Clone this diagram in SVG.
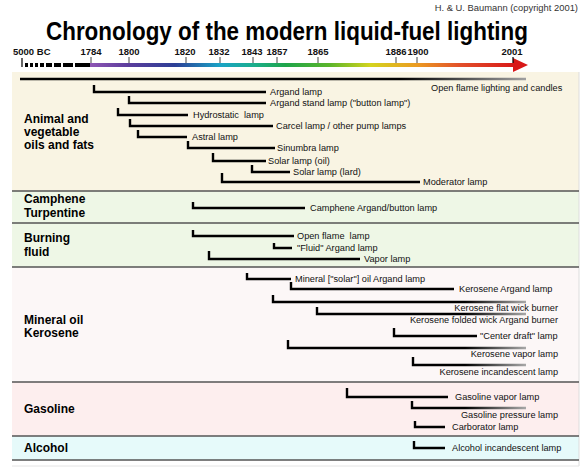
<svg xmlns="http://www.w3.org/2000/svg" width="583" height="471" viewBox="0 0 583 471">
<defs>
<linearGradient id="spec" gradientUnits="userSpaceOnUse" x1="90" y1="0" x2="515" y2="0">
<stop offset="0" stop-color="#8e55b4"/>
<stop offset="0.09" stop-color="#5b3d9c"/>
<stop offset="0.2" stop-color="#2c3f96"/>
<stop offset="0.306" stop-color="#1aa3c6"/>
<stop offset="0.384" stop-color="#1aae8e"/>
<stop offset="0.46" stop-color="#1ea54a"/>
<stop offset="0.565" stop-color="#5cb52a"/>
<stop offset="0.66" stop-color="#d4d41e"/>
<stop offset="0.77" stop-color="#eb9a22"/>
<stop offset="0.87" stop-color="#e2502a"/>
<stop offset="1" stop-color="#d81818"/>
</linearGradient>
<linearGradient id="fade" gradientUnits="userSpaceOnUse" x1="465" y1="0" x2="526" y2="0">
<stop offset="0" stop-color="#000"/>
<stop offset="1" stop-color="#a8a8a8"/>
</linearGradient>
<linearGradient id="fade0" gradientUnits="userSpaceOnUse" x1="400" y1="0" x2="526" y2="0">
<stop offset="0" stop-color="#000"/>
<stop offset="1" stop-color="#a0a0a0"/>
</linearGradient>
</defs>
<style>
.t{font-family:"Liberation Sans",Arial,sans-serif;font-size:9.2px;fill:#111}
.r{text-anchor:end}
.sec{font-family:"Liberation Sans",Arial,sans-serif;font-size:12px;font-weight:bold;fill:#000}
.yr{font-family:"Liberation Sans",Arial,sans-serif;font-size:9.5px;font-weight:bold;fill:#111;text-anchor:middle}
.bar{fill:none;stroke:#000;stroke-width:2.4;stroke-linejoin:miter;stroke-linecap:butt}
.gb{stroke:url(#fade)}
.sep{stroke:#555;stroke-width:1.5}
.tk{stroke:#444;stroke-width:1}
</style>
<rect width="583" height="471" fill="#fff"/>
<text x="578" y="11" class="t r" style="font-size:9.4px;fill:#333">H. &amp; U. Baumann (copyright 2001)</text>
<text x="46" y="40" font-family="'Liberation Sans',Arial,sans-serif" font-size="25" font-weight="bold" textLength="482" lengthAdjust="spacingAndGlyphs">Chronology of the modern liquid-fuel lighting</text>

<g id="backgrounds">
<rect x="12" y="72" width="567" height="119" fill="#f9f4e3"/>
<rect x="12" y="191" width="567" height="76" fill="#eef7e6"/>
<rect x="12" y="267" width="567" height="115" fill="#fcf7f7"/>
<rect x="12" y="382" width="567" height="54" fill="#fdeeee"/>
<rect x="12" y="436" width="567" height="24" fill="#e6fafa"/>
<line x1="579" y1="72" x2="579" y2="466" stroke="#ddd" stroke-width="1"/>
<line x1="12" y1="466" x2="579" y2="466" stroke="#e4e4e4" stroke-width="1"/>
<line class="sep" x1="12" y1="191" x2="579" y2="191"/>
<line class="sep" x1="12" y1="223" x2="579" y2="223"/>
<line class="sep" x1="12" y1="267" x2="579" y2="267"/>
<line class="sep" x1="12" y1="382" x2="579" y2="382"/>
<line class="sep" x1="12" y1="436" x2="579" y2="436"/>
<line class="sep" x1="12" y1="460" x2="579" y2="460"/>
</g>

<g id="axis">
<text x="13" y="55" class="yr" style="text-anchor:start">5000 BC</text>
<text x="91" y="55" class="yr">1784</text>
<text x="129" y="55" class="yr">1800</text>
<text x="185" y="55" class="yr">1820</text>
<text x="219" y="55" class="yr">1832</text>
<text x="252" y="55" class="yr">1843</text>
<text x="277" y="55" class="yr">1857</text>
<text x="318" y="55" class="yr">1865</text>
<text x="396" y="55" class="yr">1886</text>
<text x="418" y="55" class="yr">1900</text>
<text x="512" y="55" class="yr">2001</text>
<line x1="22" y1="58" x2="22" y2="67" stroke="#000" stroke-width="1.2"/>
<g fill="#000">
<rect x="25" y="63" width="3" height="4"/>
<rect x="30" y="63" width="3" height="4"/>
<rect x="35" y="63" width="3" height="4"/>
<rect x="40" y="63" width="4" height="4"/>
<rect x="46" y="63" width="6" height="4"/>
<rect x="54" y="63" width="7" height="4"/>
<rect x="63" y="63" width="10" height="4"/>
<rect x="75" y="63" width="15" height="4"/>
</g>
<rect x="90" y="63" width="424" height="4" fill="url(#spec)"/>
<polygon points="513,58 528,65 513,72" fill="#d81818"/>
<line class="tk" x1="91" y1="57" x2="91" y2="63"/>
<line class="tk" x1="129" y1="57" x2="129" y2="63"/>
<line class="tk" x1="186" y1="57" x2="186" y2="63"/>
<line class="tk" x1="220" y1="57" x2="220" y2="63"/>
<line class="tk" x1="253" y1="57" x2="253" y2="63"/>
<line class="tk" x1="277" y1="57" x2="277" y2="63"/>
<line class="tk" x1="318" y1="57" x2="318" y2="63"/>
<line class="tk" x1="396" y1="57" x2="396" y2="63"/>
<line class="tk" x1="417" y1="57" x2="417" y2="63"/>
<line x1="513" y1="57" x2="513" y2="63" stroke="#000" stroke-width="1.2"/>
</g>

<g id="section-labels">
<text class="sec" x="24" y="123">Animal and</text>
<text class="sec" x="24" y="136">vegetable</text>
<text class="sec" x="24" y="149">oils and fats</text>
<text class="sec" x="24" y="203">Camphene</text>
<text class="sec" x="24" y="216.5">Turpentine</text>
<text class="sec" x="24" y="242">Burning</text>
<text class="sec" x="24" y="256">fluid</text>
<text class="sec" x="24" y="324">Mineral oil</text>
<text class="sec" x="24" y="337">Kerosene</text>
<text class="sec" x="24" y="413">Gasoline</text>
<text class="sec" x="24" y="452">Alcohol</text>
</g>

<g id="connectors">
<path class="bar" d="M20,79 H526" style="stroke:url(#fade0)"/>
<path class="bar" d="M94,85 V92 H266"/>
<path class="bar" d="M129,96 V103 H266"/>
<path class="bar" d="M118,108 V115 H188"/>
<path class="bar" d="M130,119 V126 H273"/>
<path class="bar" d="M138,130 V137 H187"/>
<path class="bar" d="M188,141 V148 H275"/>
<path class="bar" d="M213,153 V161 H266"/>
<path class="bar" d="M252,165 V172 H290"/>
<path class="bar" d="M222,173 V182 H420"/>
<path class="bar" d="M193,202 V208 H305"/>
<path class="bar" d="M193,230 V236 H294"/>
<path class="bar" d="M274,243 V248 H292"/>
<path class="bar" d="M209,251 V259 H360"/>
<path class="bar" d="M247,273 V279 H291"/>
<path class="bar" d="M291,282 V289 H454"/>
<path class="bar gb" d="M273,295 V302 H526"/>
<path class="bar gb" d="M317,307 V314 H526"/>
<path class="bar" d="M394,328 V336 H477"/>
<path class="bar gb" d="M288,340 V348 H526"/>
<path class="bar gb" d="M413,357 V365 H526"/>
<path class="bar" d="M347,388 V397 H448"/>
<path class="bar gb" d="M412,401 V408 H526"/>
<path class="bar" d="M415,421 V427 H445"/>
<path class="bar" d="M414,441 V448 H445"/>
</g>

<g id="ev-openflame"><text class="t" x="431" y="91">Open flame lighting and candles</text></g>
<g id="ev-argand"><text class="t" x="270" y="95">Argand lamp</text></g>
<g id="ev-argandstand"><text class="t" x="270" y="106">Argand stand lamp ("button lamp")</text></g>
<g id="ev-hydrostatic"><text class="t" x="193" y="118" xml:space="preserve">Hydrostatic  lamp</text></g>
<g id="ev-carcel"><text class="t" x="276" y="129">Carcel lamp / other pump lamps</text></g>
<g id="ev-astral"><text class="t" x="192" y="140">Astral lamp</text></g>
<g id="ev-sinumbra"><text class="t" x="277" y="151">Sinumbra lamp</text></g>
<g id="ev-solaroil"><text class="t" x="268" y="164">Solar lamp (oil)</text></g>
<g id="ev-solarlard"><text class="t" x="293" y="175">Solar lamp (lard)</text></g>
<g id="ev-moderator"><text class="t" x="423" y="185">Moderator lamp</text></g>
<g id="ev-camphene"><text class="t" x="310" y="211">Camphene Argand/button lamp</text></g>
<g id="ev-openflamelamp"><text class="t" x="297" y="239" xml:space="preserve">Open flame  lamp</text></g>
<g id="ev-fluid"><text class="t" x="297" y="251">"Fluid" Argand lamp</text></g>
<g id="ev-vapor"><text class="t" x="364" y="262">Vapor lamp</text></g>
<g id="ev-mineralsolar"><text class="t" x="295" y="282">Mineral ["solar"] oil Argand lamp</text></g>
<g id="ev-keroargand"><text class="t" x="459" y="292">Kerosene Argand lamp</text></g>
<g id="ev-flatwick"><text class="t r" x="558" y="311">Kerosene flat wick burner</text></g>
<g id="ev-foldedwick"><text class="t r" x="558" y="323">Kerosene folded wick Argand burner</text></g>
<g id="ev-centerdraft"><text class="t" x="480" y="339">"Center draft" lamp</text></g>
<g id="ev-kerovapor"><text class="t r" x="558" y="357">Kerosene vapor lamp</text></g>
<g id="ev-keroincand"><text class="t r" x="558" y="375">Kerosene incandescent lamp</text></g>
<g id="ev-gasvapor"><text class="t" x="455" y="400">Gasoline vapor lamp</text></g>
<g id="ev-gaspressure"><text class="t r" x="558" y="418">Gasoline pressure lamp</text></g>
<g id="ev-carborator"><text class="t" x="452" y="430">Carborator lamp</text></g>
<g id="ev-alcohol"><text class="t" x="452" y="451">Alcohol incandescent lamp</text></g>
</svg>
